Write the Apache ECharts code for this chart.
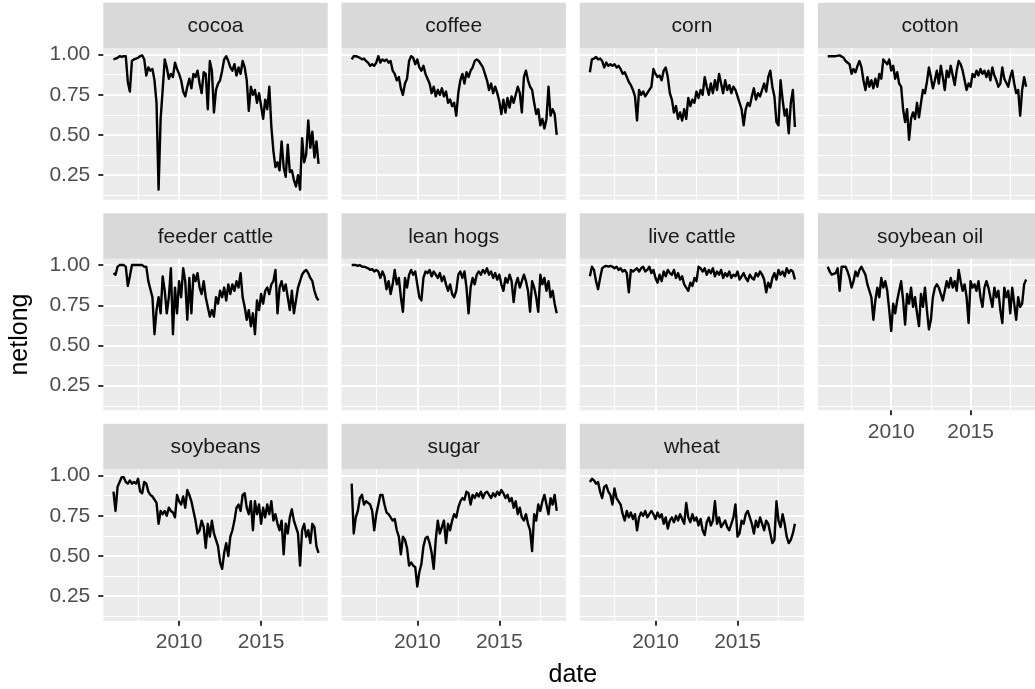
<!DOCTYPE html>
<html>
<head>
<meta charset="utf-8">
<title>netlong by commodity</title>
<script src="https://cdn.jsdelivr.net/npm/echarts@6/dist/echarts.min.js"></script>
<style>
  html, body { margin: 0; padding: 0; background: #fff; }
  #chart { width: 1035px; height: 689px; }
</style>
</head>
<body>
<div id="chart"></div>
<script>
// dates as decimal years, one sample every 1/8 year
const dates = [
  2006, 2006.125, 2006.25, 2006.375, 2006.5, 2006.625, 2006.75, 2006.875,
  2007, 2007.125, 2007.25, 2007.375, 2007.5, 2007.625, 2007.75, 2007.875,
  2008, 2008.125, 2008.25, 2008.375, 2008.5, 2008.625, 2008.75, 2008.875,
  2009, 2009.125, 2009.25, 2009.375, 2009.5, 2009.625, 2009.75, 2009.875,
  2010, 2010.125, 2010.25, 2010.375, 2010.5, 2010.625, 2010.75, 2010.875,
  2011, 2011.125, 2011.25, 2011.375, 2011.5, 2011.625, 2011.75, 2011.875,
  2012, 2012.125, 2012.25, 2012.375, 2012.5, 2012.625, 2012.75, 2012.875,
  2013, 2013.125, 2013.25, 2013.375, 2013.5, 2013.625, 2013.75, 2013.875,
  2014, 2014.125, 2014.25, 2014.375, 2014.5, 2014.625, 2014.75, 2014.875,
  2015, 2015.125, 2015.25, 2015.375, 2015.5, 2015.625, 2015.75, 2015.875,
  2016, 2016.125, 2016.25, 2016.375, 2016.5, 2016.625, 2016.75, 2016.875,
  2017, 2017.125, 2017.25, 2017.375, 2017.5, 2017.625, 2017.75, 2017.875,
  2018, 2018.125, 2018.25, 2018.375, 2018.5
]

const cocoa = [
  0.97, 0.975, 0.98, 0.99, 0.985, 0.99, 0.99, 0.83, 0.77, 0.96,
  0.97, 0.975, 0.98, 0.99, 0.995, 0.97, 0.87, 0.92, 0.90, 0.91,
  0.84, 0.70, 0.16, 0.60, 0.78, 0.97, 0.92, 0.85, 0.88, 0.86,
  0.95, 0.91, 0.88, 0.84, 0.77, 0.74, 0.80, 0.85, 0.79, 0.88,
  0.86, 0.90, 0.82, 0.76, 0.89, 0.88, 0.66, 0.96, 0.90, 0.64,
  0.78, 0.82, 0.84, 0.90, 0.97, 0.99, 0.96, 0.92, 0.90, 0.94,
  0.87, 0.92, 0.88, 0.96, 0.92, 0.84, 0.65, 0.80, 0.75, 0.78,
  0.70, 0.76, 0.68, 0.60, 0.72, 0.66, 0.80, 0.55, 0.40, 0.30,
  0.33, 0.28, 0.46, 0.30, 0.24, 0.44, 0.27, 0.28, 0.22, 0.18,
  0.25, 0.16, 0.48, 0.33, 0.38, 0.59, 0.42, 0.52, 0.36, 0.46,
  0.32
]
const coffee = [
  0.97, 0.99, 0.99, 0.985, 0.98, 0.97, 0.975, 0.96, 0.95, 0.93,
  0.94, 0.93, 0.95, 0.99, 0.95, 0.97, 0.96, 0.97, 0.95, 0.96,
  0.90, 0.88, 0.84, 0.86, 0.79, 0.75, 0.82, 0.85, 0.96, 0.99,
  0.98, 0.94, 0.97, 0.92, 0.90, 0.93, 0.88, 0.85, 0.82, 0.76,
  0.80, 0.74, 0.78, 0.75, 0.79, 0.74, 0.77, 0.70, 0.72, 0.68,
  0.70, 0.62, 0.76, 0.84, 0.88, 0.82, 0.89, 0.86, 0.90, 0.92,
  0.96, 0.97, 0.96, 0.94, 0.92, 0.88, 0.84, 0.78, 0.82, 0.76,
  0.80, 0.76, 0.71, 0.63, 0.72, 0.64, 0.73, 0.67, 0.74, 0.70,
  0.75, 0.80, 0.76, 0.64, 0.86, 0.90, 0.84, 0.80, 0.78, 0.70,
  0.63, 0.66, 0.56, 0.60, 0.54, 0.60, 0.80, 0.62, 0.66, 0.63,
  0.50
]
const corn = [
  0.89, 0.97, 0.975, 0.985, 0.97, 0.975, 0.96, 0.92, 0.95, 0.93,
  0.94, 0.93, 0.94, 0.92, 0.93, 0.91, 0.88, 0.89, 0.86, 0.83,
  0.81, 0.78, 0.74, 0.59, 0.78, 0.75, 0.77, 0.74, 0.76, 0.78,
  0.80, 0.91, 0.88, 0.86, 0.87, 0.84, 0.90, 0.92, 0.86, 0.76,
  0.72, 0.64, 0.68, 0.60, 0.64, 0.59, 0.66, 0.60, 0.73, 0.68,
  0.72, 0.70, 0.77, 0.73, 0.78, 0.75, 0.86, 0.80, 0.75, 0.82,
  0.76, 0.84, 0.78, 0.88, 0.82, 0.76, 0.84, 0.78, 0.81, 0.76,
  0.80, 0.78, 0.74, 0.70, 0.66, 0.56, 0.66, 0.70, 0.68, 0.74,
  0.79, 0.72, 0.76, 0.74, 0.78, 0.82, 0.77, 0.86, 0.90, 0.80,
  0.74, 0.58, 0.56, 0.84, 0.72, 0.62, 0.66, 0.51, 0.70, 0.78,
  0.55
]
const cotton = [
  0.99, 0.995, 0.99, 0.99, 0.99, 0.99, 0.995, 0.99, 0.98, 0.96,
  0.95, 0.94, 0.88, 0.91, 0.89, 0.93, 0.96, 0.92, 0.84, 0.78,
  0.86, 0.80, 0.84, 0.79, 0.85, 0.80, 0.88, 0.85, 0.97, 0.96,
  0.94, 0.97, 0.90, 0.93, 0.85, 0.89, 0.82, 0.80, 0.66, 0.58,
  0.66, 0.47, 0.60, 0.64, 0.60, 0.70, 0.61, 0.70, 0.78, 0.76,
  0.83, 0.92, 0.86, 0.79, 0.84, 0.90, 0.82, 0.93, 0.86, 0.78,
  0.90, 0.86, 0.93, 0.87, 0.81, 0.90, 0.96, 0.94, 0.90, 0.84,
  0.78, 0.82, 0.80, 0.88, 0.86, 0.90, 0.87, 0.91, 0.88, 0.90,
  0.86, 0.90, 0.84, 0.92, 0.87, 0.84, 0.80, 0.82, 0.92, 0.85,
  0.84, 0.80, 0.86, 0.90, 0.82, 0.76, 0.78, 0.62, 0.78, 0.86,
  0.80
]
const feederCattle = [
  0.95, 0.94, 0.99, 1.0, 1.0, 1.0, 0.99, 0.87, 0.93, 1.0,
  1.0, 1.0, 1.0, 1.0, 1.0, 0.99, 0.99, 0.90, 0.85, 0.80,
  0.57, 0.72, 0.80, 0.70, 0.93, 0.84, 0.70, 0.80, 0.98, 0.57,
  0.86, 0.70, 0.90, 0.80, 0.98, 0.90, 0.66, 0.92, 0.70, 0.94,
  0.90, 0.95, 0.86, 0.82, 0.90, 0.80, 0.74, 0.68, 0.72, 0.68,
  0.80, 0.76, 0.84, 0.80, 0.86, 0.78, 0.88, 0.82, 0.88, 0.84,
  0.90, 0.86, 0.95, 0.80, 0.74, 0.66, 0.72, 0.62, 0.70, 0.57,
  0.78, 0.72, 0.82, 0.76, 0.84, 0.86, 0.82, 0.88, 0.90, 0.97,
  0.70, 0.86, 0.90, 0.84, 0.88, 0.80, 0.72, 0.84, 0.70, 0.78,
  0.86, 0.90, 0.94, 0.96, 0.97, 0.95, 0.92, 0.90, 0.84, 0.80,
  0.78
]
const leanHogs = [
  1.0, 1.0, 1.0, 0.995, 1.0, 0.99, 0.99, 0.985, 0.98, 0.97,
  0.975, 0.96, 0.97, 0.96, 0.92, 0.96, 0.93, 0.85, 0.90, 0.82,
  0.88, 0.97, 0.88, 0.92, 0.80, 0.71, 0.92, 0.86, 0.94, 0.97,
  0.94, 0.96, 0.88, 0.80, 0.78, 0.92, 0.96, 0.95, 0.97, 0.93,
  0.96, 0.94, 0.92, 0.95, 0.90, 0.93, 0.88, 0.84, 0.88, 0.82,
  0.80, 0.84, 0.94, 0.96, 0.92, 0.96, 0.86, 0.70, 0.86, 0.92,
  0.88, 0.94, 0.96, 0.94, 0.97, 0.95, 0.98, 0.94, 0.96, 0.92,
  0.95, 0.91, 0.94, 0.88, 0.84, 0.92, 0.89, 0.94, 0.90, 0.77,
  0.88, 0.92, 0.86, 0.90, 0.94, 0.90, 0.84, 0.71, 0.90, 0.86,
  0.80, 0.71, 0.94, 0.88, 0.92, 0.84, 0.90, 0.80, 0.84, 0.76,
  0.70
]
const liveCattle = [
  0.93, 0.99, 0.97, 0.90, 0.85, 0.92, 0.98, 0.99, 0.995, 0.99,
  0.995, 0.99, 0.98, 0.99, 0.97, 0.98, 0.96, 0.97, 0.95, 0.83,
  0.97, 0.96, 0.97, 0.98, 0.96, 0.98, 0.99, 0.96, 0.97, 0.99,
  0.95, 0.97, 0.92, 0.89, 0.94, 0.90, 0.96, 0.93, 0.97, 0.95,
  0.94, 0.97, 0.92, 0.95, 0.91, 0.93, 0.88, 0.86, 0.84, 0.89,
  0.87, 0.92, 0.90, 0.99, 0.98, 0.96, 0.98, 0.94, 0.97, 0.95,
  0.98, 0.93, 0.96, 0.94, 0.97, 0.92, 0.95, 0.93, 0.96, 0.92,
  0.94, 0.93, 0.96, 0.91, 0.93, 0.95, 0.92, 0.90, 0.94, 0.92,
  0.91, 0.95, 0.93, 0.96, 0.94, 0.91, 0.83, 0.89, 0.86, 0.92,
  0.95, 0.91, 0.97, 0.94, 0.96, 0.93, 0.98, 0.95, 0.97, 0.96,
  0.91
]
const soybeanOil = [
  0.99, 0.96, 0.94, 0.93, 0.95, 0.98, 0.84, 0.99, 1.0, 0.99,
  0.96, 0.92, 0.86, 0.90, 0.96, 0.93, 0.97, 0.99, 0.98, 0.94,
  0.88, 0.84, 0.80, 0.66, 0.78, 0.86, 0.80, 0.92, 0.86, 0.90,
  0.84, 0.72, 0.59, 0.76, 0.70, 0.78, 0.84, 0.90, 0.78, 0.63,
  0.82, 0.76, 0.86, 0.74, 0.80, 0.70, 0.62, 0.82, 0.74, 0.86,
  0.72, 0.60, 0.66, 0.80, 0.86, 0.88, 0.86, 0.82, 0.78, 0.84,
  0.90, 0.86, 0.92, 0.86, 0.90, 0.84, 0.97, 0.90, 0.84, 0.88,
  0.80, 0.64, 0.90, 0.86, 0.88, 0.84, 0.90, 0.80, 0.74, 0.86,
  0.90, 0.86, 0.80, 0.74, 0.86, 0.80, 0.84, 0.72, 0.64, 0.86,
  0.80, 0.84, 0.70, 0.86, 0.76, 0.66, 0.80, 0.74, 0.76, 0.88,
  0.91
]
const soybeans = [
  0.90, 0.78, 0.93, 0.96, 0.99, 0.99, 0.96, 0.95, 0.97, 0.95,
  0.96, 0.95, 0.98, 0.90, 0.89, 0.96, 0.95, 0.90, 0.88, 0.87,
  0.85, 0.83, 0.70, 0.78, 0.76, 0.78, 0.75, 0.80, 0.78, 0.77,
  0.74, 0.88, 0.84, 0.82, 0.87, 0.80, 0.91, 0.88, 0.84, 0.78,
  0.72, 0.64, 0.66, 0.72, 0.68, 0.55, 0.70, 0.62, 0.72, 0.64,
  0.60, 0.56, 0.46, 0.42, 0.52, 0.58, 0.50, 0.62, 0.66, 0.72,
  0.80, 0.82, 0.78, 0.88, 0.89, 0.80, 0.76, 0.84, 0.66, 0.84,
  0.76, 0.82, 0.70, 0.80, 0.74, 0.82, 0.76, 0.84, 0.72, 0.76,
  0.70, 0.66, 0.72, 0.51, 0.70, 0.64, 0.74, 0.79, 0.72, 0.68,
  0.64, 0.44, 0.66, 0.70, 0.62, 0.66, 0.58, 0.70, 0.68, 0.56,
  0.52
]
const sugar = [
  0.95, 0.64, 0.74, 0.78, 0.86, 0.88, 0.82, 0.84, 0.83, 0.82,
  0.78, 0.66, 0.76, 0.82, 0.88, 0.88, 0.82, 0.77, 0.76, 0.74,
  0.72, 0.73, 0.66, 0.62, 0.51, 0.62, 0.60, 0.55, 0.44, 0.46,
  0.44, 0.43, 0.31, 0.40, 0.45, 0.56, 0.61, 0.62, 0.58, 0.52,
  0.42, 0.60, 0.72, 0.64, 0.68, 0.72, 0.58, 0.70, 0.66, 0.72,
  0.76, 0.74, 0.80, 0.84, 0.86, 0.85, 0.90, 0.89, 0.82, 0.88,
  0.86, 0.89, 0.87, 0.90, 0.86, 0.89, 0.90, 0.88, 0.86, 0.89,
  0.87, 0.90, 0.88, 0.91, 0.89, 0.86, 0.88, 0.84, 0.86, 0.80,
  0.84, 0.76, 0.80, 0.74, 0.72, 0.76, 0.70, 0.66, 0.53, 0.76,
  0.72, 0.82, 0.78, 0.84, 0.88, 0.82, 0.76, 0.86, 0.82, 0.88,
  0.78
]
const wheat = [
  0.96, 0.98, 0.97, 0.95, 0.96, 0.90, 0.86, 0.93, 0.94, 0.90,
  0.88, 0.82, 0.92, 0.86, 0.84, 0.82, 0.76, 0.72, 0.78, 0.74,
  0.77, 0.73, 0.76, 0.66, 0.74, 0.77, 0.75, 0.78, 0.74, 0.76,
  0.78, 0.76, 0.73, 0.77, 0.74, 0.76, 0.70, 0.74, 0.67, 0.72,
  0.74, 0.71, 0.75, 0.72, 0.76, 0.73, 0.70, 0.83, 0.74, 0.71,
  0.76, 0.72, 0.74, 0.69, 0.73, 0.66, 0.63, 0.71, 0.74, 0.69,
  0.72, 0.84, 0.70, 0.74, 0.68, 0.70, 0.72, 0.68, 0.66, 0.70,
  0.74, 0.82, 0.62, 0.64, 0.72, 0.70, 0.76, 0.78, 0.74, 0.70,
  0.64, 0.72, 0.68, 0.74, 0.70, 0.66, 0.72, 0.70, 0.64, 0.58,
  0.60, 0.84, 0.72, 0.68, 0.76, 0.70, 0.62, 0.58, 0.60, 0.64,
  0.70
]

const commodities = ['cocoa', 'coffee', 'corn', 'cotton', 'feeder cattle', 'lean hogs',
  'live cattle', 'soybean oil', 'soybeans', 'sugar', 'wheat']
const commodityValues = [cocoa, coffee, corn, cotton, feederCattle, leanHogs,
  liveCattle, soybeanOil, soybeans, sugar, wheat]

const xMajorTicks = [2010, 2015]
const xMinorTicks = [2007.5, 2012.5, 2017.5]
const yMajorTicks = [0.25, 0.5, 0.75, 1.0]
const yMinorTicks = [0.125, 0.375, 0.625, 0.875]

// panel layout in px (4th column runs past the right edge, as in the original)
const colLeft = [103.3, 341.5, 579.7, 817.9]
const rowTop = [48.3, 258.8, 469.3]
const panelW = 224.4
const panelH = 151.5
const stripH = 45.5
const xRange = [2005.38, 2019.06]
const yRange = [0.097, 1.039]
const font = 'Liberation Sans, Arial, Helvetica, sans-serif'

const chart = echarts.init(document.getElementById('chart'))
const grid = []
const xAxis = []
const yAxis = []
const series = []
const graphic = []

const tickStyle = { color: '#333333', width: 2 }
const labelStyle = { color: '#4D4D4D', fontSize: 21, fontFamily: font }

commodities.forEach((name, i) => {
  const col = i % 4
  const row = Math.floor(i / 4)
  const left = colLeft[col]
  const top = rowTop[row]
  const showX = i + 4 >= commodities.length // no panel underneath
  const showY = col === 0

  grid.push({ left, top, width: panelW, height: panelH, show: true, backgroundColor: '#EBEBEB', borderWidth: 0 })

  // major x axis (ticks, labels, major grid)
  xAxis.push({
    type: 'value', gridIndex: i, min: xRange[0], max: xRange[1], position: 'bottom',
    axisLine: { show: false },
    axisTick: { show: showX, length: 5, customValues: xMajorTicks, lineStyle: tickStyle },
    axisLabel: { show: showX, customValues: xMajorTicks, margin: 11, ...labelStyle, formatter: (v) => String(v) },
    splitLine: { show: true, lineStyle: { color: '#FFFFFF', width: 2 } }
  })
  // minor x grid
  xAxis.push({
    type: 'value', gridIndex: i, min: xRange[0], max: xRange[1], position: 'top',
    axisLine: { show: false },
    axisTick: { show: false, customValues: xMinorTicks },
    axisLabel: { show: false, customValues: xMinorTicks },
    splitLine: { show: true, lineStyle: { color: '#FFFFFF', width: 1 } }
  })
  // major y axis
  yAxis.push({
    type: 'value', gridIndex: i, min: yRange[0], max: yRange[1], position: 'left',
    axisLine: { show: false },
    axisTick: { show: showY, length: 5, customValues: yMajorTicks, lineStyle: tickStyle },
    axisLabel: { show: showY, customValues: yMajorTicks, margin: 13, ...labelStyle, formatter: (v) => v.toFixed(2) },
    splitLine: { show: true, lineStyle: { color: '#FFFFFF', width: 2 } }
  })
  // minor y grid
  yAxis.push({
    type: 'value', gridIndex: i, min: yRange[0], max: yRange[1], position: 'right',
    axisLine: { show: false },
    axisTick: { show: false, customValues: yMinorTicks },
    axisLabel: { show: false, customValues: yMinorTicks },
    splitLine: { show: true, lineStyle: { color: '#FFFFFF', width: 1 } }
  })

  series.push({
    name,
    type: 'line',
    xAxisIndex: 2 * i,
    yAxisIndex: 2 * i,
    data: dates.map((d, k) => [d, commodityValues[i][k]]),
    symbol: 'none',
    lineStyle: { color: '#000000', width: 2.4, join: 'round' },
    z: 3
  })

  // facet strip
  graphic.push({
    type: 'rect', silent: true,
    shape: { x: left, y: top - stripH, width: panelW, height: stripH },
    style: { fill: '#D9D9D9' }
  })
  graphic.push({
    type: 'text', silent: true,
    x: left + panelW / 2, y: top - stripH / 2 + 1,
    style: { text: name, fill: '#1A1A1A', fontSize: 21, fontFamily: font, align: 'center', verticalAlign: 'middle' }
  })
})

// axis titles
graphic.push({
  type: 'text', silent: true,
  x: (colLeft[0] + colLeft[3] + panelW) / 2, y: 675,
  style: { text: 'date', fill: '#000000', fontSize: 25, fontFamily: font, align: 'center', verticalAlign: 'middle' }
})
graphic.push({
  type: 'text', silent: true,
  x: 20, y: (rowTop[0] + rowTop[2] + panelH) / 2,
  rotation: Math.PI / 2,
  style: { text: 'netlong', fill: '#000000', fontSize: 25, fontFamily: font, align: 'center', verticalAlign: 'middle' }
})

chart.setOption({
  animation: false,
  backgroundColor: '#FFFFFF',
  textStyle: { fontFamily: font },
  grid,
  xAxis,
  yAxis,
  series,
  graphic
})
window.addEventListener('resize', () => chart.resize())
</script>
</body>
</html>
